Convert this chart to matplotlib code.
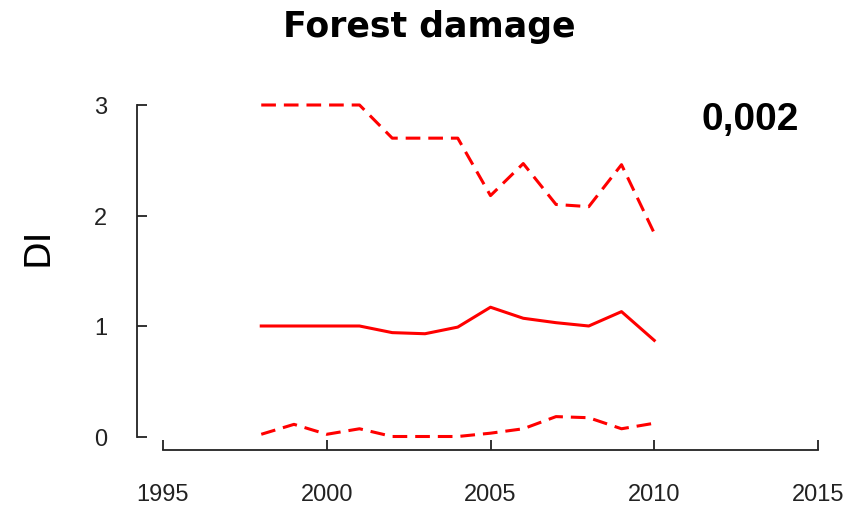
"""Forest damage index (DI) over time with upper/lower bounds."""

import matplotlib

matplotlib.use("Agg")
import matplotlib.pyplot as plt

years = [1998, 1999, 2000, 2001, 2002, 2003, 2004, 2005, 2006, 2007, 2008, 2009, 2010]
di_mean = [1.00, 1.00, 1.00, 1.00, 0.94, 0.93, 0.99, 1.17, 1.07, 1.03, 1.00, 1.13, 0.87]
di_upper = [3.00, 3.00, 3.00, 3.00, 2.70, 2.70, 2.70, 2.18, 2.47, 2.10, 2.08, 2.46, 1.84]
di_lower = [0.02, 0.11, 0.02, 0.07, 0.00, 0.00, 0.00, 0.03, 0.07, 0.18, 0.17, 0.07, 0.12]

x_ticks = [1995, 2000, 2005, 2010, 2015]
y_ticks = [0, 1, 2, 3]
title = "Forest damage"
p_value = "0,002"

W, H = 862, 510
DPI = 100
PX = 72 / DPI  # points per pixel

fig = plt.figure(figsize=(W / DPI, H / DPI), dpi=DPI)
# axes box spans exactly the data range 1995-2015 x 0-3
ax = fig.add_axes([163 / W, 1 - 437.5 / H, (818 - 163) / W, (437.5 - 106) / H])

red = "#ff0000"
dash = (0, (4.8, 2.6))
ax.plot(years, di_mean, color=red, lw=2.2, clip_on=False)
ax.plot(years, di_upper, color=red, lw=2.2, ls=dash, clip_on=False)
ax.plot(years, di_lower, color=red, lw=2.2, ls=dash, clip_on=False)

ax.set_xlim(1995, 2015)
ax.set_ylim(0, 3)
ax.set_xticks(x_ticks)
ax.set_yticks(y_ticks)

for side in ("top", "right"):
    ax.spines[side].set_visible(False)
ax.spines["left"].set_position(("outward", 26 * PX))
ax.spines["bottom"].set_position(("outward", 13.5 * PX))
for side in ("left", "bottom"):
    ax.spines[side].set_linewidth(1.3)
    ax.spines[side].set_color("#222222")

ax.tick_params(axis="both", direction="in", length=10 * PX, width=1.3,
               color="#222222", labelsize=17, labelcolor="#222222")
ax.tick_params(axis="x", pad=33 * PX)
ax.tick_params(axis="y", pad=30 * PX)
for lab in ax.get_xticklabels() + ax.get_yticklabels():
    lab.set_fontfamily(["Liberation Sans", "DejaVu Sans"])

fig.text(38 / W, 1 - 247 / H, "DI", rotation=90, ha="center", va="center",
         fontsize=26, family="DejaVu Sans")

fig.text(429 / W, 1 - 27 / H, title, ha="center", va="center",
         fontsize=25, fontweight="bold", family="DejaVu Sans")
fig.text(750 / W, 1 - 120 / H, p_value, ha="center", va="center",
         fontsize=28, fontweight="bold", family=["Liberation Sans", "DejaVu Sans"])

fig.savefig("out.png", dpi=DPI)
plt.close(fig)
